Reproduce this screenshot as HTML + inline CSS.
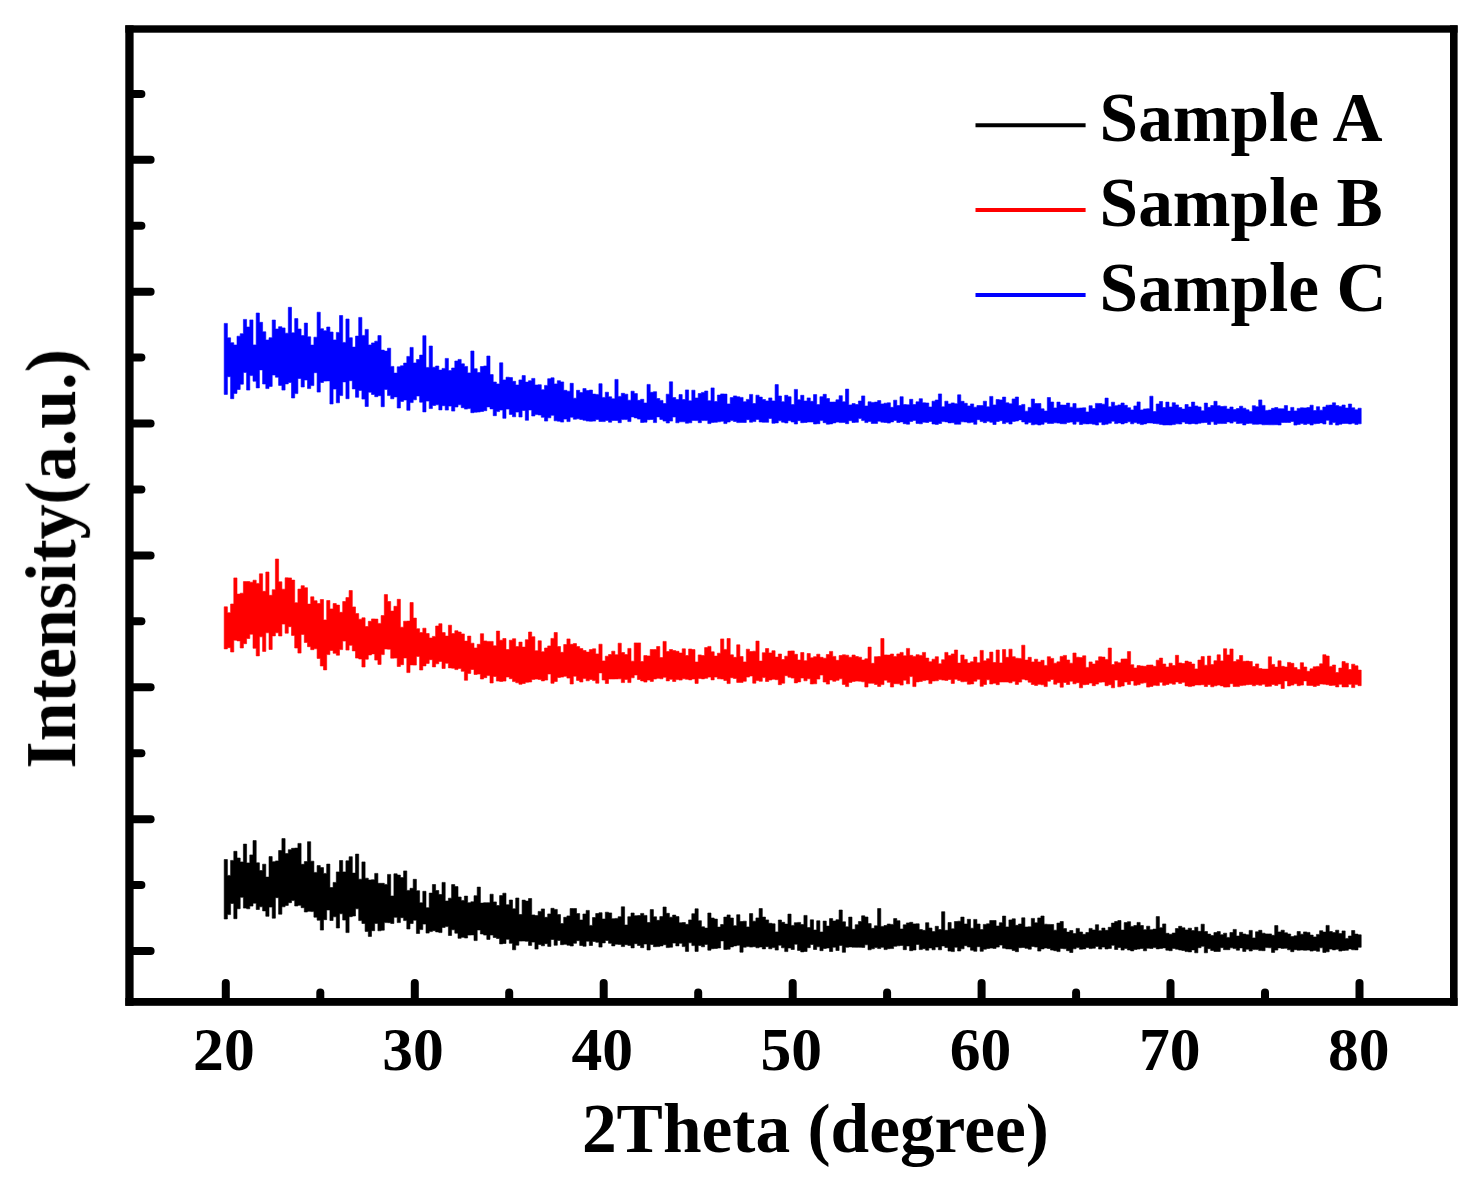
<!DOCTYPE html>
<html lang="en"><head><meta charset="utf-8"><title>XRD patterns</title>
<style>html,body{margin:0;padding:0;background:#fff}body{width:1472px;height:1177px;overflow:hidden}svg{display:block}</style>
</head><body>
<svg width="1472" height="1177" viewBox="0 0 1472 1177">
<rect width="1472" height="1177" fill="#fff"/>
<defs><filter id="soft" x="-2%" y="-2%" width="104%" height="104%"><feGaussianBlur stdDeviation="0.6"/></filter></defs>
<g filter="url(#soft)">
<path id="tr-c" fill="#0000ff" stroke="#0000ff" stroke-width="0.6" stroke-linejoin="round" d="M224.2,323.4H227.4V337.8H230.6V342.7H233.8V345.0H237.0V336.2H240.2V333.7H243.4V319.4H246.6V327.0H249.8V319.9H253.0V344.9H256.2V313.0H259.4V322.3H262.6V331.8H265.8V340.0H269.0V337.7H272.2V320.0H275.4V329.0H278.6V326.7H281.9V327.9H285.1V333.2H288.3V307.3H291.5V332.8H294.7V318.6H297.9V329.0H301.1V335.6H304.3V323.1H307.5V336.8H310.7V345.1H313.9V337.2H317.1V312.2H320.3V328.7H323.5V330.7H326.7V327.0H329.9V332.0H333.1V339.9H336.3V332.4H339.5V315.5H342.7V342.4H345.9V319.0H349.1V337.7H352.3V347.1H355.5V336.1H358.7V317.4H361.9V335.4H365.1V329.4H368.3V344.9H371.5V342.9H374.7V341.2H377.9V335.6H381.1V350.1H384.3V351.1H387.5V348.2H390.7V366.4H393.9V373.1H397.2V366.8H400.4V365.8H403.6V363.1H406.8V356.4H410.0V347.4H413.2V362.9H416.4V359.5H419.6V355.1H422.8V335.7H426.0V367.4H429.2V346.0H432.4V367.2H435.6V366.0H438.8V370.1H442.0V368.4H445.2V358.4H448.4V370.6H451.6V368.0H454.8V361.0H458.0V359.4H461.2V363.8H464.4V366.4H467.6V372.9H470.8V351.0H474.0V368.7H477.2V372.6H480.4V366.5H483.6V366.0H486.8V356.0H490.0V374.6H493.2V382.0H496.4V383.9H499.6V362.8H502.8V379.9H506.0V377.2H509.3V377.6H512.5V381.3H515.7V385.0H518.9V379.9H522.1V375.6H525.3V382.1H528.5V380.7H531.7V378.4H534.9V385.0H538.1V384.7H541.3V389.7H544.5V385.4H547.7V378.7H550.9V377.8H554.1V383.9H557.3V380.7H560.5V381.9H563.7V390.3H566.9V391.2H570.1V383.3H573.3V398.2H576.5V390.3H579.7V392.6H582.9V388.6H586.1V390.6H589.3V390.1H592.5V394.1H595.7V394.4H598.9V383.7H602.1V397.4H605.3V392.2H608.5V396.8H611.7V398.8H614.9V379.4H618.1V396.4H621.3V393.3H624.6V394.2H627.8V400.2H631.0V391.2H634.2V393.6H637.4V400.3H640.6V399.3H643.8V403.0H647.0V384.4H650.2V392.3H653.4V391.7H656.6V398.5H659.8V400.4H663.0V403.5H666.2V394.2H669.4V381.8H672.6V397.6H675.8V399.5H679.0V394.6H682.2V399.5H685.4V389.9H688.6V400.8H691.8V390.2H695.0V398.0H698.2V393.5H701.4V392.4H704.6V391.0H707.8V400.7H711.0V387.9H714.2V401.5H717.4V395.1H720.6V393.9H723.8V394.1H727.0V403.9H730.2V397.6H733.4V395.9H736.7V396.8H739.9V397.4H743.1V401.7H746.3V399.4H749.5V394.4H752.7V403.5H755.9V395.2H759.1V397.1H762.3V399.5H765.5V400.9H768.7V397.9H771.9V400.9H775.1V384.6H778.3V396.0H781.5V401.7H784.7V395.3H787.9V396.7H791.1V404.6H794.3V389.4H797.5V399.7H800.7V395.3H803.9V401.0H807.1V397.9H810.3V401.3H813.5V394.6H816.7V404.6H819.9V396.7H823.1V394.3H826.3V398.5H829.5V402.1H832.7V402.0H835.9V399.8H839.1V395.7H842.3V401.8H845.5V389.1H848.7V404.9H852.0V403.6H855.2V404.5H858.4V401.0H861.6V395.9H864.8V406.0H868.0V401.8H871.2V402.4H874.4V402.1H877.6V400.6H880.8V403.9H884.0V403.2H887.2V402.8H890.4V407.3H893.6V400.2H896.8V405.5H900.0V396.7H903.2V404.5H906.4V404.8H909.6V399.3H912.8V404.5H916.0V401.8H919.2V398.7H922.4V402.8H925.6V403.0H928.8V407.0H932.0V401.2H935.2V400.0H938.4V393.9H941.6V406.8H944.8V401.2H948.0V403.9H951.2V402.9H954.4V403.7H957.6V394.8H960.8V401.3H964.1V403.3H967.3V405.9H970.5V403.9H973.7V407.2H976.9V405.5H980.1V405.6H983.3V401.2H986.5V406.8H989.7V396.4H992.9V404.9H996.1V399.5H999.3V399.9H1002.5V397.1H1005.7V402.8H1008.9V403.8H1012.1V398.9H1015.3V397.0H1018.5V405.6H1021.7V404.4H1024.9V411.2H1028.1V407.4H1031.3V399.0H1034.5V403.5H1037.7V403.5H1040.9V408.8H1044.1V411.0H1047.3V397.5H1050.5V402.0H1053.7V407.9H1056.9V402.1H1060.1V405.0H1063.3V405.1H1066.5V403.1H1069.7V407.2H1072.9V403.6H1076.1V408.2H1079.4V408.0H1082.6V407.8H1085.8V411.9H1089.0V405.7H1092.2V408.5H1095.4V403.4H1098.6V403.5H1101.8V404.2H1105.0V398.1H1108.2V406.7H1111.4V402.2H1114.6V405.7H1117.8V404.9H1121.0V403.0H1124.2V405.3H1127.4V407.7H1130.6V409.9H1133.8V405.9H1137.0V401.9H1140.2V409.9H1143.4V408.9H1146.6V408.7H1149.8V396.2H1153.0V411.5H1156.2V404.0H1159.4V401.5H1162.6V407.6H1165.8V402.1H1169.0V407.0H1172.2V402.7H1175.4V404.9H1178.6V407.5H1181.8V409.1H1185.0V404.5H1188.2V406.9H1191.5V402.1H1194.7V405.9H1197.9V406.9H1201.1V410.8H1204.3V403.1H1207.5V407.3H1210.7V405.5H1213.9V401.3H1217.1V405.7H1220.3V406.5H1223.5V406.2H1226.7V408.9H1229.9V407.0H1233.1V409.6H1236.3V408.5H1239.5V406.2H1242.7V408.2H1245.9V409.8H1249.1V411.6H1252.3V405.7H1255.5V406.7H1258.7V399.9H1261.9V405.4H1265.1V410.4H1268.3V410.0H1271.5V408.3H1274.7V407.5H1277.9V408.7H1281.1V408.8H1284.3V405.6H1287.5V411.1H1290.7V407.4H1293.9V410.9H1297.1V408.4H1300.3V407.8H1303.5V407.9H1306.8V407.5H1310.0V405.2H1313.2V410.6H1316.4V406.7H1319.6V410.2H1322.8V407.0H1326.0V405.2H1329.2V405.1H1332.4V402.8H1335.6V405.6H1338.8V406.4H1342.0V405.0H1345.2V408.0H1348.4V404.0H1351.6V407.8H1354.8V409.8H1358.0V408.2H1361.2V423.8H1358.0V424.4H1354.8V423.2H1351.6V424.0H1348.4V423.4H1345.2V423.5H1342.0V424.2H1338.8V425.1H1335.6V422.6H1332.4V424.6H1329.2V420.3H1326.0V424.0H1322.8V422.9H1319.6V423.5H1316.4V423.8H1313.2V425.0H1310.0V423.7H1306.8V424.4H1303.5V423.6H1300.3V424.4H1297.1V425.1H1293.9V421.5H1290.7V422.5H1287.5V422.5H1284.3V422.5H1281.1V425.0H1277.9V424.7H1274.7V424.8H1271.5V424.8H1268.3V424.7H1265.1V424.8H1261.9V424.1H1258.7V424.3H1255.5V424.3H1252.3V423.3H1249.1V423.5H1245.9V424.9H1242.7V423.3H1239.5V423.5H1236.3V421.6H1233.1V423.1H1229.9V421.9H1226.7V423.5H1223.5V423.6H1220.3V423.6H1217.1V424.4H1213.9V421.8H1210.7V424.4H1207.5V422.5H1204.3V422.7H1201.1V423.2H1197.9V424.0H1194.7V423.5H1191.5V424.0H1188.2V423.5H1185.0V422.1H1181.8V424.0H1178.6V423.8H1175.4V424.6H1172.2V425.0H1169.0V424.9H1165.8V425.0H1162.6V424.4H1159.4V423.8H1156.2V423.5H1153.0V423.0H1149.8V422.9H1146.6V423.9H1143.4V424.6H1140.2V423.6H1137.0V422.6H1133.8V423.8H1130.6V421.8H1127.4V422.9H1124.2V423.9H1121.0V422.9H1117.8V423.6H1114.6V421.2H1111.4V423.2H1108.2V424.2H1105.0V424.7H1101.8V422.3H1098.6V425.0H1095.4V424.2H1092.2V423.7H1089.0V423.9H1085.8V423.8H1082.6V424.5H1079.4V421.8H1076.1V424.2H1072.9V422.1H1069.7V422.4H1066.5V423.8H1063.3V423.7H1060.1V423.1H1056.9V422.8H1053.7V423.4H1050.5V423.4H1047.3V422.3H1044.1V424.3H1040.9V425.0H1037.7V424.2H1034.5V424.8H1031.3V422.4H1028.1V424.1H1024.9V421.9H1021.7V419.9H1018.5V421.0H1015.3V421.4H1012.1V424.0H1008.9V422.3H1005.7V423.6H1002.5V420.7H999.3V421.5H996.1V424.5H992.9V422.3H989.7V421.2H986.5V422.7H983.3V421.6H980.1V419.7H976.9V424.3H973.7V422.3H970.5V422.8H967.3V422.0H964.1V421.8H960.8V424.2H957.6V424.2H954.4V422.7H951.2V422.9H948.0V421.9H944.8V421.6H941.6V423.5H938.4V424.4H935.2V424.0H932.0V421.5H928.8V422.5H925.6V422.2H922.4V423.8H919.2V423.4H916.0V420.4H912.8V421.4H909.6V424.2H906.4V423.7H903.2V421.9H900.0V422.5H896.8V420.4H893.6V421.9H890.4V423.1H887.2V422.5H884.0V422.2H880.8V421.2H877.6V423.4H874.4V423.4H871.2V421.4H868.0V422.6H864.8V420.6H861.6V418.6H858.4V422.3H855.2V422.5H852.0V420.7H848.7V423.7H845.5V422.4H842.3V422.6H839.1V422.1H835.9V422.9H832.7V423.9H829.5V424.2H826.3V422.7H823.1V420.6H819.9V423.7H816.7V424.0H813.5V422.0H810.3V422.0H807.1V422.5H803.9V422.7H800.7V420.7H797.5V424.0H794.3V422.0H791.1V420.7H787.9V423.0H784.7V422.2H781.5V420.8H778.3V422.9H775.1V423.3H771.9V418.5H768.7V422.3H765.5V422.3H762.3V422.0H759.1V419.4H755.9V421.6H752.7V422.2H749.5V419.7H746.3V422.5H743.1V422.4H739.9V422.6H736.7V421.5H733.4V420.6H730.2V422.0H727.0V423.6H723.8V421.3H720.6V421.8H717.4V422.3H714.2V422.4H711.0V423.6H707.8V420.6H704.6V420.6H701.4V422.7H698.2V420.6H695.0V420.4H691.8V422.8H688.6V423.2H685.4V421.8H682.2V421.8H679.0V422.8H675.8V417.0H672.6V421.1H669.4V423.0H666.2V421.1H663.0V419.4H659.8V416.9H656.6V422.6H653.4V419.5H650.2V419.7H647.0V422.2H643.8V422.5H640.6V419.1H637.4V417.9H634.2V416.9H631.0V421.6H627.8V419.6H624.6V419.6H621.3V422.7H618.1V420.5H614.9V420.5H611.7V422.2H608.5V420.4H605.3V421.6H602.1V421.5H598.9V419.5H595.7V421.1H592.5V421.3H589.3V421.1H586.1V420.3H582.9V419.5H579.7V418.8H576.5V419.2H573.3V417.2H570.1V421.6H566.9V419.1H563.7V422.1H560.5V421.2H557.3V420.8H554.1V415.3H550.9V417.8H547.7V421.1H544.5V417.3H541.3V415.0H538.1V414.6H534.9V416.0H531.7V410.0H528.5V420.3H525.3V410.5H522.1V417.0H518.9V412.1H515.7V416.8H512.5V414.4H509.3V409.1H506.0V418.3H502.8V410.1H499.6V411.6H496.4V415.7H493.2V408.9H490.0V406.9H486.8V410.7H483.6V411.5H480.4V412.0H477.2V412.2H474.0V412.7H470.8V408.6H467.6V409.1H464.4V407.7H461.2V404.8H458.0V407.0H454.8V411.1H451.6V406.1H448.4V410.1H445.2V405.7H442.0V409.9H438.8V404.8H435.6V405.5H432.4V408.6H429.2V401.1H426.0V411.9H422.8V402.2H419.6V396.0H416.4V399.8H413.2V402.6H410.0V410.3H406.8V400.0H403.6V401.4H400.4V408.0H397.2V396.9H393.9V398.8H390.7V395.6H387.5V389.4H384.3V406.7H381.1V395.7H377.9V396.7H374.7V394.5H371.5V392.2H368.3V406.5H365.1V399.1H361.9V390.4H358.7V397.3H355.5V388.9H352.3V380.7H349.1V398.7H345.9V381.9H342.7V395.6H339.5V402.8H336.3V389.1H333.1V404.0H329.9V380.9H326.7V381.1H323.5V382.5H320.3V392.1H317.1V372.7H313.9V385.6H310.7V388.6H307.5V380.0H304.3V387.0H301.1V378.5H297.9V393.6H294.7V398.0H291.5V382.5H288.3V383.9H285.1V390.1H281.9V385.4H278.6V377.2H275.4V375.0H272.2V386.4H269.0V388.6H265.8V384.0H262.6V369.9H259.4V387.9H256.2V381.2H253.0V375.6H249.8V390.1H246.6V372.4H243.4V384.2H240.2V389.5H237.0V393.4H233.8V398.7H230.6V376.7H227.4V394.4H224.2Z"/>
<path id="tr-b" fill="#ff0000" stroke="#ff0000" stroke-width="0.6" stroke-linejoin="round" d="M224.2,606.8H227.4V612.7H230.6V604.0H233.8V577.9H237.0V594.1H240.2V593.2H243.4V581.6H246.6V581.5H249.8V582.2H253.0V580.2H256.2V583.4H259.4V573.8H262.6V591.3H265.8V572.0H269.0V595.3H272.2V589.7H275.4V559.0H278.6V581.8H281.9V589.2H285.1V577.8H288.3V577.9H291.5V580.1H294.7V602.7H297.9V589.1H301.1V585.7H304.3V587.7H307.5V604.1H310.7V596.8H313.9V600.7H317.1V603.5H320.3V599.5H323.5V619.9H326.7V600.5H329.9V608.9H333.1V603.5H336.3V605.1H339.5V612.3H342.7V601.5H345.9V597.6H349.1V590.5H352.3V606.9H355.5V613.6H358.7V619.2H361.9V617.8H365.1V626.5H368.3V621.3H371.5V618.9H374.7V619.1H377.9V623.4H381.1V615.6H384.3V594.6H387.5V601.5H390.7V611.1H393.9V606.3H397.2V599.3H400.4V627.2H403.6V621.2H406.8V621.1H410.0V602.5H413.2V618.1H416.4V628.7H419.6V632.6H422.8V628.2H426.0V633.5H429.2V638.0H432.4V636.4H435.6V626.0H438.8V623.7H442.0V632.6H445.2V636.1H448.4V625.2H451.6V633.6H454.8V630.7H458.0V632.0H461.2V633.9H464.4V641.1H467.6V636.1H470.8V643.2H474.0V648.0H477.2V644.3H480.4V633.7H483.6V640.9H486.8V641.4H490.0V641.4H493.2V645.8H496.4V631.1H499.6V640.2H502.8V638.5H506.0V649.5H509.3V640.2H512.5V638.7H515.7V646.6H518.9V642.1H522.1V647.1H525.3V639.7H528.5V632.0H531.7V636.7H534.9V650.7H538.1V640.8H541.3V651.7H544.5V648.0H547.7V645.9H550.9V638.4H554.1V632.5H557.3V646.5H560.5V652.3H563.7V644.5H566.9V638.9H570.1V644.3H573.3V643.6H576.5V646.6H579.7V648.6H582.9V650.5H586.1V652.1H589.3V649.6H592.5V648.8H595.7V653.9H598.9V644.2H602.1V660.9H605.3V656.2H608.5V654.5H611.7V651.2H614.9V654.7H618.1V643.2H621.3V652.5H624.6V654.6H627.8V648.4H631.0V661.2H634.2V642.9H637.4V642.9H640.6V661.5H643.8V655.6H647.0V655.9H650.2V649.5H653.4V649.5H656.6V646.5H659.8V657.6H663.0V641.4H666.2V651.5H669.4V649.5H672.6V650.6H675.8V651.3H679.0V653.0H682.2V648.8H685.4V655.5H688.6V649.0H691.8V649.6H695.0V662.0H698.2V654.9H701.4V655.5H704.6V647.6H707.8V646.4H711.0V651.8H714.2V656.1H717.4V653.2H720.6V638.9H723.8V649.4H727.0V638.5H730.2V654.8H733.4V657.3H736.7V644.8H739.9V656.5H743.1V661.9H746.3V649.2H749.5V651.5H752.7V651.2H755.9V641.1H759.1V661.1H762.3V652.7H765.5V648.5H768.7V652.9H771.9V650.7H775.1V657.1H778.3V654.0H781.5V659.5H784.7V656.2H787.9V651.1H791.1V650.9H794.3V654.3H797.5V660.0H800.7V652.5H803.9V660.7H807.1V653.5H810.3V657.8H813.5V656.7H816.7V654.2H819.9V657.3H823.1V658.2H826.3V654.5H829.5V651.4H832.7V656.4H835.9V660.3H839.1V655.5H842.3V654.8H845.5V655.2H848.7V657.2H852.0V655.0H855.2V656.5H858.4V657.2H861.6V660.0H864.8V658.8H868.0V647.1H871.2V663.3H874.4V656.7H877.6V656.5H880.8V638.5H884.0V654.9H887.2V655.1H890.4V654.0H893.6V656.4H896.8V653.9H900.0V652.4H903.2V655.8H906.4V648.4H909.6V655.3H912.8V656.4H916.0V654.7H919.2V655.4H922.4V652.4H925.6V658.1H928.8V661.7H932.0V659.2H935.2V656.7H938.4V663.8H941.6V659.7H944.8V652.4H948.0V655.6H951.2V653.9H954.4V650.0H957.6V663.1H960.8V655.0H964.1V659.4H967.3V663.0H970.5V661.7H973.7V657.0H976.9V662.7H980.1V650.4H983.3V660.8H986.5V658.7H989.7V652.1H992.9V662.5H996.1V650.0H999.3V662.9H1002.5V649.5H1005.7V657.3H1008.9V649.2H1012.1V656.7H1015.3V658.2H1018.5V658.4H1021.7V645.2H1024.9V660.1H1028.1V657.3H1031.3V661.9H1034.5V659.2H1037.7V661.9H1040.9V660.3H1044.1V665.4H1047.3V656.7H1050.5V658.4H1053.7V663.2H1056.9V661.8H1060.1V656.4H1063.3V655.4H1066.5V660.0H1069.7V663.2H1072.9V653.0H1076.1V657.2H1079.4V657.6H1082.6V655.8H1085.8V667.4H1089.0V661.9H1092.2V664.0H1095.4V660.7H1098.6V656.8H1101.8V657.1H1105.0V659.4H1108.2V648.0H1111.4V664.5H1114.6V661.7H1117.8V662.8H1121.0V659.0H1124.2V658.9H1127.4V651.6H1130.6V664.7H1133.8V668.0H1137.0V665.6H1140.2V666.0H1143.4V666.3H1146.6V665.1H1149.8V665.0H1153.0V666.3H1156.2V660.2H1159.4V658.1H1162.6V664.0H1165.8V667.0H1169.0V663.2H1172.2V665.5H1175.4V655.3H1178.6V662.9H1181.8V663.5H1185.0V661.1H1188.2V662.0H1191.5V664.0H1194.7V668.9H1197.9V660.1H1201.1V656.6H1204.3V665.2H1207.5V656.0H1210.7V664.6H1213.9V660.7H1217.1V654.8H1220.3V660.9H1223.5V648.7H1226.7V654.9H1229.9V649.0H1233.1V661.5H1236.3V659.7H1239.5V655.5H1242.7V661.3H1245.9V661.1H1249.1V661.5H1252.3V666.5H1255.5V663.9H1258.7V668.5H1261.9V669.1H1265.1V669.1H1268.3V656.8H1271.5V664.4H1274.7V667.1H1277.9V660.8H1281.1V666.3H1284.3V667.0H1287.5V662.4H1290.7V663.3H1293.9V667.6H1297.1V669.6H1300.3V662.7H1303.5V667.0H1306.8V671.3H1310.0V668.8H1313.2V666.8H1316.4V666.4H1319.6V663.8H1322.8V654.7H1326.0V656.0H1329.2V666.4H1332.4V665.0H1335.6V672.5H1338.8V668.1H1342.0V661.6H1345.2V663.2H1348.4V669.5H1351.6V664.2H1354.8V665.8H1358.0V670.1H1361.2V685.7H1358.0V684.6H1354.8V687.6H1351.6V684.3H1348.4V686.9H1345.2V686.9H1342.0V684.3H1338.8V686.9H1335.6V685.3H1332.4V685.5H1329.2V684.7H1326.0V684.2H1322.8V684.0H1319.6V685.5H1316.4V686.4H1313.2V685.4H1310.0V685.4H1306.8V680.9H1303.5V685.1H1300.3V685.7H1297.1V683.7H1293.9V685.1H1290.7V685.9H1287.5V680.9H1284.3V688.5H1281.1V684.0H1277.9V685.4H1274.7V684.5H1271.5V686.2H1268.3V686.4H1265.1V684.2H1261.9V685.3H1258.7V684.7H1255.5V685.8H1252.3V684.5H1249.1V684.7H1245.9V685.2H1242.7V685.6H1239.5V686.6H1236.3V686.5H1233.1V683.7H1229.9V686.9H1226.7V687.1H1223.5V685.9H1220.3V685.1H1217.1V685.8H1213.9V686.8H1210.7V684.7H1207.5V686.5H1204.3V684.7H1201.1V685.0H1197.9V684.9H1194.7V686.0H1191.5V686.6H1188.2V685.9H1185.0V682.3H1181.8V683.4H1178.6V682.0H1175.4V684.2H1172.2V683.3H1169.0V684.5H1165.8V685.3H1162.6V682.3H1159.4V685.6H1156.2V685.2H1153.0V686.4H1149.8V687.1H1146.6V682.8H1143.4V683.2H1140.2V684.7H1137.0V685.3H1133.8V680.9H1130.6V684.4H1127.4V682.0H1124.2V686.0H1121.0V686.8H1117.8V680.1H1114.6V687.8H1111.4V684.7H1108.2V685.7H1105.0V682.0H1101.8V682.2H1098.6V684.1H1095.4V685.7H1092.2V683.1H1089.0V684.4H1085.8V684.7H1082.6V687.8H1079.4V682.7H1076.1V683.8H1072.9V681.2H1069.7V684.5H1066.5V682.5H1063.3V687.2H1060.1V682.7H1056.9V684.2H1053.7V679.5H1050.5V681.2H1047.3V686.6H1044.1V684.8H1040.9V684.3H1037.7V685.4H1034.5V684.5H1031.3V682.2H1028.1V680.0H1024.9V679.2H1021.7V682.1H1018.5V684.4H1015.3V681.3H1012.1V682.8H1008.9V682.0H1005.7V682.0H1002.5V682.0H999.3V684.7H996.1V683.2H992.9V684.0H989.7V679.8H986.5V684.5H983.3V686.3H980.1V679.3H976.9V681.2H973.7V683.9H970.5V684.2H967.3V681.6H964.1V681.8H960.8V680.4H957.6V679.2H954.4V683.4H951.2V679.5H948.0V680.4H944.8V680.1H941.6V679.6H938.4V680.8H935.2V681.0H932.0V683.6H928.8V680.0H925.6V680.6H922.4V681.4H919.2V681.9H916.0V686.6H912.8V676.6H909.6V683.8H906.4V680.2H903.2V685.1H900.0V683.8H896.8V683.7H893.6V687.0H890.4V682.3H887.2V680.2H884.0V684.6H880.8V686.4H877.6V684.5H874.4V683.3H871.2V683.3H868.0V687.0H864.8V681.8H861.6V681.2H858.4V681.1H855.2V681.4H852.0V682.4H848.7V686.6H845.5V684.4H842.3V678.8H839.1V680.3H835.9V681.3H832.7V680.0H829.5V684.1H826.3V682.0H823.1V675.0H819.9V679.1H816.7V683.8H813.5V684.0H810.3V678.8H807.1V680.8H803.9V678.0H800.7V681.9H797.5V682.9H794.3V678.1H791.1V677.2H787.9V675.7H784.7V683.2H781.5V684.7H778.3V679.7H775.1V679.2H771.9V680.0H768.7V681.5H765.5V677.6H762.3V681.3H759.1V680.6H755.9V683.2H752.7V676.0H749.5V677.1H746.3V681.3H743.1V682.4H739.9V682.4H736.7V678.5H733.4V677.7H730.2V683.6H727.0V680.5H723.8V679.0H720.6V678.8H717.4V677.1H714.2V679.9H711.0V677.1H707.8V678.3H704.6V678.9H701.4V678.4H698.2V683.4H695.0V679.0H691.8V679.9H688.6V679.3H685.4V678.8H682.2V680.1H679.0V679.6H675.8V681.5H672.6V679.3H669.4V680.9H666.2V677.3H663.0V678.8H659.8V678.3H656.6V679.0H653.4V681.4H650.2V680.1H647.0V682.1H643.8V680.9H640.6V679.5H637.4V675.0H634.2V677.8H631.0V682.6H627.8V679.4H624.6V682.6H621.3V678.8H618.1V678.9H614.9V679.0H611.7V679.0H608.5V683.5H605.3V680.0H602.1V672.9H598.9V683.2H595.7V680.6H592.5V679.4H589.3V680.8H586.1V678.6H582.9V682.0H579.7V680.4H576.5V676.2H573.3V684.0H570.1V678.1H566.9V676.3H563.7V677.1H560.5V677.5H557.3V681.5H554.1V683.3H550.9V674.0H547.7V680.1H544.5V680.9H541.3V679.5H538.1V679.1H534.9V679.4H531.7V682.0H528.5V682.3H525.3V683.5H522.1V684.3H518.9V682.8H515.7V681.6H512.5V678.7H509.3V677.0H506.0V681.1H502.8V681.5H499.6V681.1H496.4V676.5H493.2V683.0H490.0V675.6H486.8V677.7H483.6V679.0H480.4V674.1H477.2V674.5H474.0V669.5H470.8V673.4H467.6V680.3H464.4V671.3H461.2V668.4H458.0V669.6H454.8V668.2H451.6V667.9H448.4V663.3H445.2V668.5H442.0V661.4H438.8V663.8H435.6V666.9H432.4V659.7H429.2V663.4H426.0V665.9H422.8V670.0H419.6V656.4H416.4V665.1H413.2V664.9H410.0V672.6H406.8V658.0H403.6V664.7H400.4V666.5H397.2V658.1H393.9V658.2H390.7V649.2H387.5V649.0H384.3V654.6H381.1V664.4H377.9V660.1H374.7V653.9H371.5V655.0H368.3V659.2H365.1V667.0H361.9V659.0H358.7V658.1H355.5V650.9H352.3V645.3H349.1V650.1H345.9V641.1H342.7V649.6H339.5V655.2H336.3V653.3H333.1V650.5H329.9V654.6H326.7V669.9H323.5V666.0H320.3V658.4H317.1V648.8H313.9V649.7H310.7V646.7H307.5V642.5H304.3V634.4H301.1V653.1H297.9V648.0H294.7V635.4H291.5V626.7H288.3V633.2H285.1V624.1H281.9V636.0H278.6V632.8H275.4V635.9H272.2V649.5H269.0V632.8H265.8V651.4H262.6V636.8H259.4V655.9H256.2V648.3H253.0V634.2H249.8V638.5H246.6V643.7H243.4V648.0H240.2V640.9H237.0V640.2H233.8V652.0H230.6V647.7H227.4V648.9H224.2Z"/>
<path id="tr-a" fill="#000000" stroke="#000000" stroke-width="0.6" stroke-linejoin="round" d="M224.2,859.5H227.4V875.4H230.6V860.4H233.8V851.3H237.0V858.0H240.2V861.9H243.4V844.1H246.6V862.9H249.8V854.9H253.0V840.6H256.2V862.8H259.4V870.6H262.6V864.2H265.8V877.1H269.0V856.6H272.2V861.7H275.4V860.9H278.6V850.5H281.9V838.6H285.1V853.6H288.3V849.7H291.5V848.3H294.7V848.1H297.9V843.4H301.1V864.3H304.3V861.6H307.5V841.7H310.7V861.2H313.9V872.4H317.1V865.6H320.3V867.6H323.5V873.4H326.7V864.1H329.9V887.5H333.1V882.4H336.3V871.9H339.5V860.5H342.7V871.9H345.9V860.8H349.1V856.7H352.3V873.1H355.5V854.1H358.7V879.2H361.9V861.9H365.1V878.2H368.3V880.0H371.5V879.7H374.7V873.4H377.9V883.3H381.1V883.3H384.3V884.4H387.5V874.4H390.7V896.0H393.9V873.8H397.2V875.1H400.4V877.6H403.6V870.9H406.8V890.4H410.0V888.3H413.2V879.3H416.4V890.7H419.6V902.8H422.8V891.3H426.0V907.7H429.2V893.1H432.4V884.5H435.6V890.5H438.8V894.5H442.0V882.4H445.2V901.0H448.4V898.2H451.6V884.6H454.8V886.6H458.0V897.0H461.2V900.4H464.4V896.1H467.6V902.7H470.8V901.8H474.0V895.7H477.2V887.1H480.4V903.1H483.6V902.7H486.8V902.7H490.0V894.2H493.2V901.9H496.4V905.5H499.6V895.6H502.8V893.2H506.0V904.7H509.3V900.0H512.5V908.8H515.7V898.0H518.9V914.5H522.1V900.1H525.3V901.1H528.5V898.5H531.7V914.9H534.9V915.6H538.1V911.4H541.3V908.9H544.5V917.3H547.7V913.9H550.9V908.3H554.1V909.4H557.3V914.6H560.5V923.6H563.7V917.3H566.9V915.9H570.1V908.5H573.3V908.5H576.5V913.6H579.7V920.0H582.9V914.0H586.1V910.4H589.3V925.4H592.5V917.5H595.7V913.5H598.9V912.7H602.1V919.0H605.3V912.2H608.5V912.9H611.7V918.7H614.9V918.4H618.1V916.7H621.3V906.8H624.6V925.0H627.8V916.7H631.0V913.0H634.2V915.7H637.4V915.5H640.6V913.4H643.8V915.4H647.0V922.5H650.2V909.6H653.4V916.8H656.6V920.3H659.8V916.6H663.0V907.0H666.2V913.3H669.4V917.2H672.6V915.1H675.8V916.6H679.0V922.8H682.2V922.5H685.4V924.3H688.6V919.9H691.8V913.7H695.0V908.8H698.2V920.7H701.4V926.8H704.6V928.1H707.8V913.0H711.0V918.0H714.2V919.1H717.4V927.1H720.6V924.5H723.8V917.1H727.0V914.9H730.2V918.0H733.4V925.7H736.7V914.7H739.9V921.5H743.1V921.2H746.3V926.9H749.5V913.6H752.7V921.2H755.9V917.9H759.1V908.5H762.3V917.1H765.5V919.9H768.7V923.3H771.9V923.8H775.1V931.9H778.3V920.0H781.5V922.3H784.7V924.1H787.9V914.1H791.1V925.4H794.3V922.7H797.5V922.4H800.7V924.5H803.9V915.4H807.1V927.6H810.3V919.8H813.5V930.0H816.7V920.8H819.9V932.0H823.1V921.1H826.3V926.1H829.5V918.6H832.7V921.0H835.9V919.7H839.1V910.0H842.3V921.8H845.5V926.8H848.7V917.1H852.0V929.3H855.2V924.7H858.4V921.5H861.6V915.8H864.8V917.0H868.0V923.6H871.2V928.3H874.4V925.8H877.6V908.5H880.8V926.4H884.0V925.5H887.2V924.0H890.4V924.4H893.6V918.6H896.8V920.7H900.0V929.0H903.2V924.8H906.4V922.9H909.6V922.3H912.8V923.9H916.0V923.8H919.2V929.5H922.4V930.3H925.6V922.7H928.8V928.0H932.0V931.6H935.2V926.3H938.4V929.5H941.6V911.7H944.8V930.3H948.0V922.5H951.2V928.8H954.4V921.5H957.6V921.2H960.8V917.1H964.1V924.0H967.3V919.3H970.5V928.2H973.7V919.4H976.9V924.0H980.1V929.6H983.3V924.4H986.5V923.8H989.7V920.5H992.9V920.5H996.1V926.0H999.3V922.7H1002.5V916.1H1005.7V926.9H1008.9V919.9H1012.1V918.8H1015.3V925.3H1018.5V924.0H1021.7V917.8H1024.9V927.0H1028.1V926.8H1031.3V918.4H1034.5V922.8H1037.7V917.9H1040.9V916.0H1044.1V924.2H1047.3V924.4H1050.5V924.5H1053.7V930.2H1056.9V923.1H1060.1V921.5H1063.3V928.6H1066.5V932.1H1069.7V930.5H1072.9V933.6H1076.1V928.4H1079.4V932.0H1082.6V934.3H1085.8V932.5H1089.0V928.4H1092.2V929.9H1095.4V924.7H1098.6V930.7H1101.8V928.1H1105.0V930.3H1108.2V927.3H1111.4V923.1H1114.6V921.5H1117.8V920.5H1121.0V930.1H1124.2V922.6H1127.4V921.7H1130.6V926.4H1133.8V925.5H1137.0V922.4H1140.2V925.5H1143.4V929.7H1146.6V926.2H1149.8V929.7H1153.0V929.1H1156.2V916.6H1159.4V927.7H1162.6V923.9H1165.8V933.3H1169.0V934.3H1172.2V933.0H1175.4V928.5H1178.6V926.3H1181.8V927.8H1185.0V929.9H1188.2V928.2H1191.5V930.6H1194.7V927.3H1197.9V931.3H1201.1V924.2H1204.3V931.5H1207.5V934.1H1210.7V935.5H1213.9V932.6H1217.1V931.6H1220.3V934.7H1223.5V933.2H1226.7V937.4H1229.9V932.5H1233.1V929.4H1236.3V936.0H1239.5V932.3H1242.7V934.0H1245.9V934.7H1249.1V930.4H1252.3V937.9H1255.5V931.8H1258.7V930.3H1261.9V933.2H1265.1V933.9H1268.3V933.9H1271.5V935.3H1274.7V925.6H1277.9V931.9H1281.1V930.2H1284.3V932.8H1287.5V934.0H1290.7V936.6H1293.9V935.8H1297.1V931.5H1300.3V934.2H1303.5V931.9H1306.8V932.4H1310.0V935.1H1313.2V936.9H1316.4V934.4H1319.6V930.7H1322.8V932.1H1326.0V925.4H1329.2V931.5H1332.4V932.6H1335.6V930.2H1338.8V933.6H1342.0V930.9H1345.2V938.4H1348.4V936.0H1351.6V930.5H1354.8V934.1H1358.0V934.8H1361.2V947.3H1358.0V949.9H1354.8V949.8H1351.6V948.9H1348.4V950.3H1345.2V950.5H1342.0V951.1H1338.8V949.3H1335.6V949.9H1332.4V949.1H1329.2V951.8H1326.0V952.4H1322.8V947.8H1319.6V951.3H1316.4V950.4H1313.2V951.1H1310.0V950.1H1306.8V950.3H1303.5V950.0H1300.3V950.2H1297.1V949.7H1293.9V951.7H1290.7V949.8H1287.5V948.3H1284.3V948.4H1281.1V947.9H1277.9V950.1H1274.7V952.4H1271.5V947.8H1268.3V947.6H1265.1V950.7H1261.9V950.6H1258.7V949.6H1255.5V949.6H1252.3V951.0H1249.1V949.2H1245.9V951.4H1242.7V947.9H1239.5V950.2H1236.3V948.6H1233.1V947.8H1229.9V949.7H1226.7V949.7H1223.5V947.7H1220.3V951.5H1217.1V951.5H1213.9V950.5H1210.7V948.7H1207.5V952.8H1204.3V946.3H1201.1V947.7H1197.9V952.8H1194.7V949.9H1191.5V951.9H1188.2V951.6H1185.0V950.5H1181.8V950.0H1178.6V949.2H1175.4V948.4H1172.2V950.7H1169.0V950.2H1165.8V947.9H1162.6V948.4H1159.4V948.9H1156.2V947.6H1153.0V948.5H1149.8V948.2H1146.6V950.8H1143.4V948.5H1140.2V949.1H1137.0V949.5H1133.8V950.9H1130.6V950.0H1127.4V948.4H1124.2V950.1H1121.0V947.5H1117.8V949.5H1114.6V945.3H1111.4V948.4H1108.2V949.0H1105.0V947.1H1101.8V949.1H1098.6V946.4H1095.4V948.2H1092.2V948.6H1089.0V947.5H1085.8V948.9H1082.6V949.2H1079.4V947.6H1076.1V948.8H1072.9V952.5H1069.7V950.7H1066.5V948.8H1063.3V948.4H1060.1V951.6H1056.9V950.7H1053.7V950.1H1050.5V948.5H1047.3V948.0H1044.1V948.9H1040.9V951.1H1037.7V947.1H1034.5V946.4H1031.3V949.2H1028.1V948.3H1024.9V947.5H1021.7V947.7H1018.5V951.7H1015.3V950.4H1012.1V949.0H1008.9V948.9H1005.7V948.2H1002.5V945.1H999.3V947.1H996.1V948.4H992.9V948.1H989.7V948.5H986.5V949.2H983.3V951.3H980.1V946.7H976.9V951.3H973.7V950.2H970.5V947.0H967.3V945.7H964.1V948.8H960.8V951.0H957.6V947.2H954.4V951.6H951.2V951.1H948.0V947.5H944.8V946.0H941.6V949.8H938.4V947.1H935.2V949.8H932.0V948.0H928.8V950.2H925.6V948.7H922.4V949.6H919.2V944.4H916.0V950.0H912.8V950.7H909.6V946.0H906.4V949.7H903.2V945.4H900.0V945.8H896.8V946.3H893.6V948.6H890.4V948.7H887.2V949.6H884.0V947.3H880.8V948.6H877.6V947.6H874.4V948.8H871.2V949.8H868.0V944.8H864.8V947.4H861.6V947.3H858.4V947.3H855.2V947.2H852.0V946.9H848.7V947.3H845.5V952.3H842.3V945.4H839.1V950.5H835.9V947.2H832.7V951.5H829.5V948.0H826.3V948.5H823.1V950.7H819.9V946.8H816.7V949.5H813.5V944.5H810.3V947.7H807.1V951.5H803.9V951.9H800.7V950.4H797.5V944.2H794.3V949.5H791.1V948.0H787.9V951.6H784.7V947.8H781.5V945.2H778.3V950.1H775.1V947.6H771.9V948.8H768.7V946.7H765.5V948.9H762.3V947.0H759.1V947.8H755.9V946.7H752.7V947.1H749.5V946.6H746.3V947.2H743.1V952.2H739.9V945.3H736.7V945.9H733.4V946.9H730.2V949.2H727.0V949.5H723.8V940.9H720.6V948.0H717.4V948.5H714.2V948.7H711.0V950.2H707.8V944.4H704.6V946.8H701.4V945.5H698.2V951.4H695.0V945.6H691.8V942.8H688.6V951.4H685.4V946.6H682.2V943.3H679.0V945.9H675.8V943.1H672.6V947.2H669.4V947.6H666.2V944.7H663.0V945.9H659.8V946.6H656.6V946.7H653.4V944.5H650.2V950.0H647.0V944.0H643.8V947.7H640.6V945.5H637.4V943.7H634.2V947.9H631.0V945.4H627.8V944.7H624.6V946.6H621.3V944.4H618.1V944.2H614.9V945.9H611.7V943.3H608.5V940.5H605.3V942.9H602.1V947.1H598.9V942.3H595.7V941.5H592.5V945.5H589.3V941.2H586.1V946.3H582.9V945.5H579.7V940.7H576.5V943.3H573.3V946.0H570.1V945.2H566.9V944.3H563.7V944.7H560.5V940.4H557.3V945.3H554.1V939.5H550.9V946.4H547.7V943.7H544.5V945.8H541.3V944.5H538.1V949.1H534.9V942.1H531.7V945.4H528.5V941.3H525.3V941.0H522.1V941.1H518.9V945.2H515.7V949.8H512.5V943.3H509.3V939.3H506.0V943.5H502.8V943.9H499.6V938.5H496.4V937.5H493.2V935.0H490.0V939.4H486.8V935.1H483.6V934.0H480.4V930.0H477.2V940.6H474.0V934.9H470.8V935.1H467.6V938.0H464.4V937.3H461.2V938.3H458.0V933.2H454.8V929.8H451.6V935.5H448.4V926.6H445.2V927.4H442.0V932.6H438.8V931.9H435.6V930.7H432.4V931.6H429.2V933.1H426.0V924.1H422.8V929.6H419.6V933.5H416.4V920.2H413.2V923.5H410.0V929.0H406.8V920.6H403.6V917.7H400.4V922.6H397.2V917.3H393.9V923.5H390.7V922.7H387.5V922.6H384.3V930.2H381.1V930.8H377.9V923.4H374.7V930.7H371.5V936.4H368.3V931.4H365.1V923.5H361.9V920.6H358.7V908.8H355.5V916.0H352.3V916.7H349.1V932.6H345.9V920.1H342.7V913.8H339.5V928.0H336.3V916.8H333.1V920.5H329.9V910.0H326.7V919.7H323.5V930.1H320.3V920.2H317.1V917.2H313.9V911.6H310.7V911.3H307.5V912.0H304.3V907.7H301.1V905.3H297.9V906.0H294.7V900.6H291.5V902.7H288.3V905.4H285.1V906.8H281.9V914.2H278.6V897.7H275.4V918.2H272.2V907.1H269.0V916.3H265.8V910.9H262.6V906.8H259.4V909.5H256.2V903.2H253.0V906.1H249.8V908.8H246.6V908.1H243.4V897.3H240.2V908.7H237.0V918.7H233.8V903.5H230.6V914.6H227.4V919.0H224.2Z"/>
<g fill="#000">
<rect x="125.3" y="25.3" width="1332.3" height="7.4"/>
<rect x="125.3" y="998.0" width="1332.3" height="7.8"/>
<rect x="125.3" y="25.3" width="8.3" height="980.5"/>
<rect x="1450.0" y="25.3" width="7.6" height="980.5"/>
</g>
<g stroke="#000" stroke-width="8" stroke-linecap="round" fill="none">
<line x1="130" y1="159.8" x2="150.6" y2="159.8"/>
<line x1="130" y1="291.7" x2="150.6" y2="291.7"/>
<line x1="130" y1="423.5" x2="150.6" y2="423.5"/>
<line x1="130" y1="555.4" x2="150.6" y2="555.4"/>
<line x1="130" y1="687.3" x2="150.6" y2="687.3"/>
<line x1="130" y1="819.2" x2="150.6" y2="819.2"/>
<line x1="130" y1="951.0" x2="150.6" y2="951.0"/>
<line x1="130" y1="93.9" x2="141.4" y2="93.9"/>
<line x1="130" y1="225.7" x2="141.4" y2="225.7"/>
<line x1="130" y1="357.6" x2="141.4" y2="357.6"/>
<line x1="130" y1="489.5" x2="141.4" y2="489.5"/>
<line x1="130" y1="621.3" x2="141.4" y2="621.3"/>
<line x1="130" y1="753.2" x2="141.4" y2="753.2"/>
<line x1="130" y1="885.1" x2="141.4" y2="885.1"/>
<line x1="225.8" y1="1000" x2="225.8" y2="983"/>
<line x1="414.8" y1="1000" x2="414.8" y2="983"/>
<line x1="603.7" y1="1000" x2="603.7" y2="983"/>
<line x1="792.7" y1="1000" x2="792.7" y2="983"/>
<line x1="981.6" y1="1000" x2="981.6" y2="983"/>
<line x1="1170.5" y1="1000" x2="1170.5" y2="983"/>
<line x1="1359.5" y1="1000" x2="1359.5" y2="983"/>
<line x1="320.3" y1="1000" x2="320.3" y2="992.5"/>
<line x1="509.2" y1="1000" x2="509.2" y2="992.5"/>
<line x1="698.2" y1="1000" x2="698.2" y2="992.5"/>
<line x1="887.1" y1="1000" x2="887.1" y2="992.5"/>
<line x1="1076.1" y1="1000" x2="1076.1" y2="992.5"/>
<line x1="1265.0" y1="1000" x2="1265.0" y2="992.5"/>
</g>
<g font-family="'Liberation Serif', serif" font-weight="bold" fill="#000">
<g font-size="61.6" text-anchor="middle">
<text x="223.9" y="1070.4">20</text>
<text x="413.0" y="1070.4">30</text>
<text x="602.2" y="1070.4">40</text>
<text x="791.3" y="1070.4">50</text>
<text x="980.5" y="1070.4">60</text>
<text x="1169.7" y="1070.4">70</text>
<text x="1358.8" y="1070.4">80</text>
</g>
<text id="xl" x="815.4" y="1151.7" font-size="69.4" text-anchor="middle">2Theta (degree)</text>
<text id="yl" transform="translate(75.0,558.8) rotate(-90) scale(1,1.03)" font-size="69.9" text-anchor="middle">Intensity(a.u.)</text>
<g font-size="69.3">
<text id="lgA" x="1099.6" y="141.2">Sample A</text>
<text id="lgB" x="1099.6" y="225.9">Sample B</text>
<text id="lgC" x="1099.6" y="310.7">Sample C</text>
</g></g>
<line x1="975.5" y1="125.3" x2="1085.6" y2="125.3" stroke="#000" stroke-width="4"/>
<line x1="975.5" y1="209.9" x2="1085.6" y2="209.9" stroke="#f00" stroke-width="4"/>
<line x1="975.5" y1="295.1" x2="1085.6" y2="295.1" stroke="#00f" stroke-width="4"/>
</g>
</svg>
</body></html>
